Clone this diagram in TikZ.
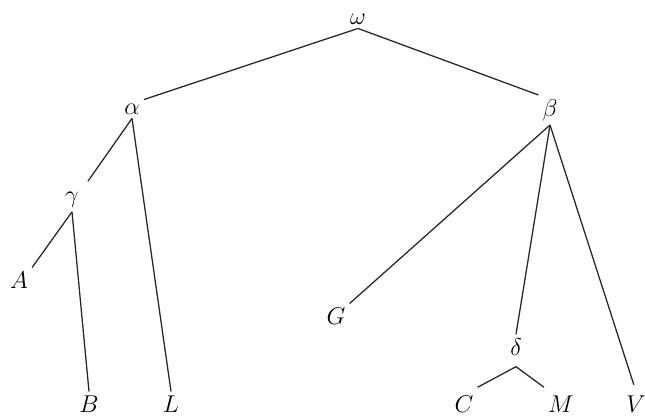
\documentclass[tikz,border=0pt]{standalone}
\usepackage{tikz}
\begin{document}
\begin{tikzpicture}[x=0.025cm, y=-0.025cm,
    every node/.style={font=\fontsize{16}{18}\selectfont},
    sig/.style={inner sep=0pt, outer sep=3pt},
    ln/.style={line width=0.9pt, black!85}]
  \useasboundingbox (0,0) rectangle (645,415);
  % hyparchetypes
  \node[sig] (om) at (358,19)  {$\omega$};
  \node[sig] (al) at (132,109) {$\alpha$};
  \node[sig] (be) at (550,110) {$\beta$};
  \node[sig] (ga) at (72,200)  {$\gamma$};
  \node[sig] (de) at (516,347) {$\delta$};
  % witnesses
  \node[sig] (A) at (19,280)  {$A$};
  \node[sig] (B) at (89,404)  {$B$};
  \node[sig] (L) at (171,404) {$L$};
  \node[sig] (G) at (336,316) {$G$};
  \node[sig] (C) at (464,404) {$C$};
  \node[sig] (M) at (561,404) {$M$};
  \node[sig] (V) at (636,404) {$V$};
  \draw[ln] (om.south) -- (al.north east);
  \draw[ln] (om.south) -- (be.north west);
  \draw[ln, shorten >=6pt] (al.south) -- (ga.north east);
  \draw[ln] (al.south) -- (L.north);
  \draw[ln] (ga.south) -- (A.north east);
  \draw[ln] (ga.south) -- (B.north);
  \draw[ln] (be.south) -- (G.north east);
  \draw[ln] (be.south) -- (de.north);
  \draw[ln, shorten >=5pt] (be.south) -- (V.north);
  \draw[ln] ([yshift=-5pt]de.south) -- ([yshift=3pt]C.north east);
  \draw[ln] ([yshift=-5pt]de.south) -- ([yshift=3pt]M.north west);
\end{tikzpicture}
\end{document}
